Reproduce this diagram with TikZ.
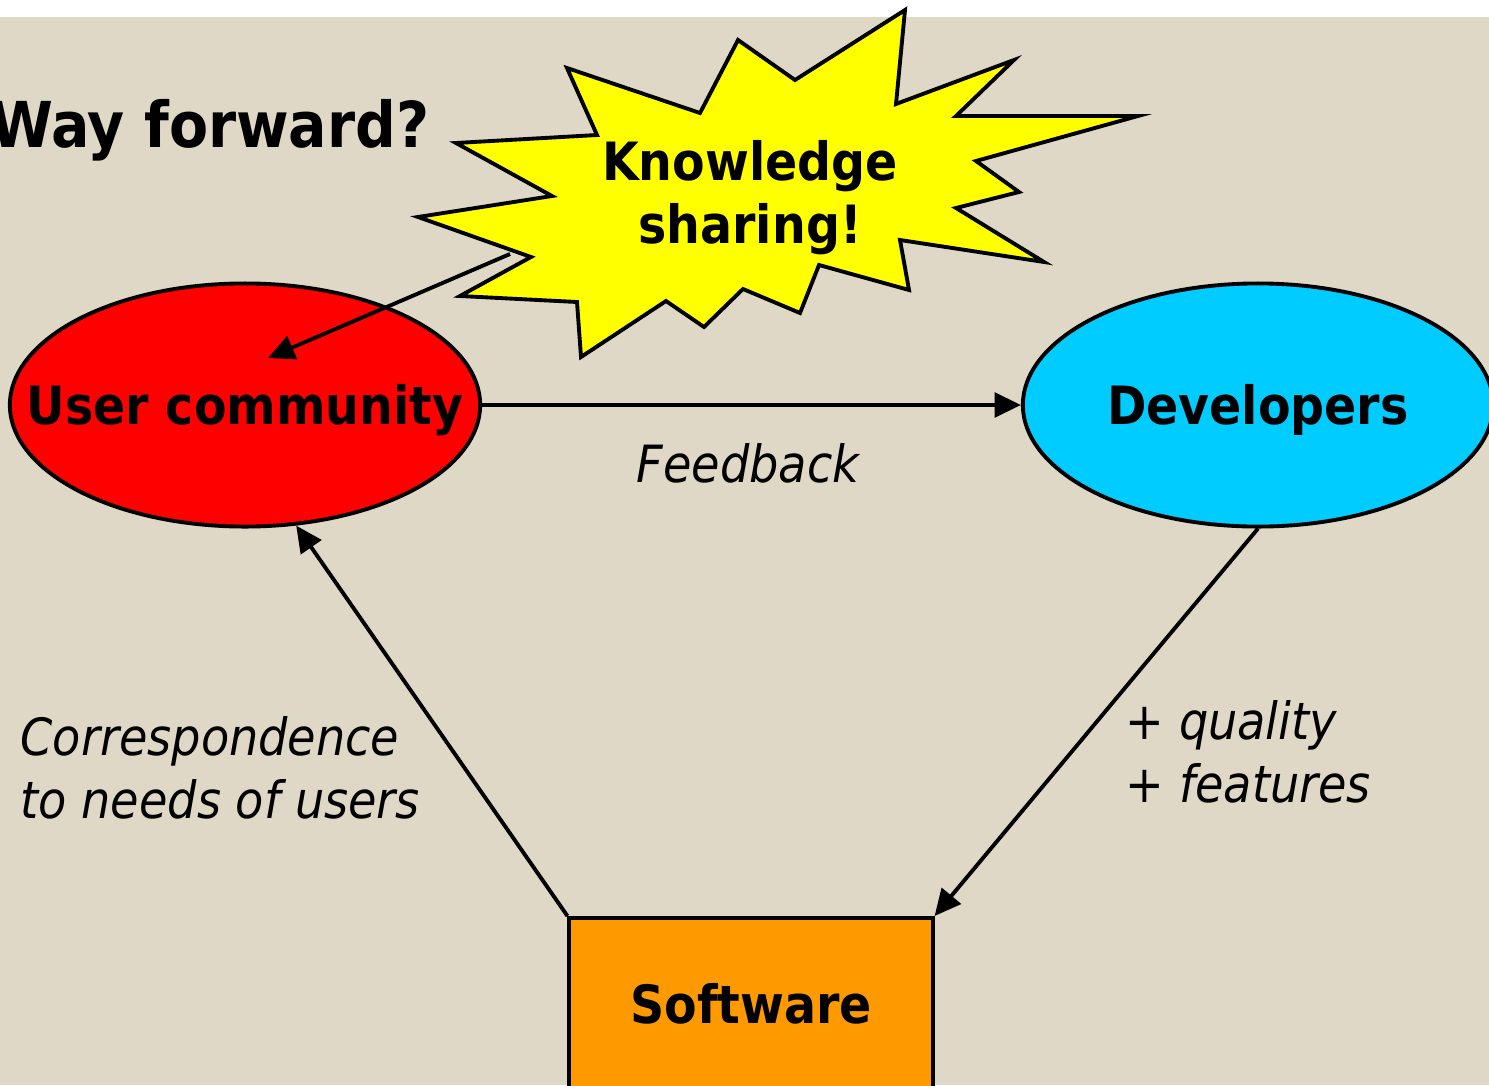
\documentclass[tikz,border=0pt]{standalone}
\usepackage{fontspec}
\setmainfont{DejaVu Sans Condensed}
\usetikzlibrary{shapes.geometric,arrows.meta}
\definecolor{slidebg}{RGB}{224,216,199}
\definecolor{usrred}{RGB}{255,0,0}
\definecolor{devblue}{RGB}{0,204,255}
\definecolor{swor}{RGB}{255,153,0}
\definecolor{burstyel}{RGB}{255,255,0}
\tikzset{
	blob/.style={ellipse, draw, line width=1.1pt, minimum width=4.7cm, minimum height=2.43cm, inner sep=0pt, text height=11pt, text depth=0pt, font=\fontsize{15}{18}\selectfont\bfseries},
	swbox/.style={rectangle, draw, fill=swor, line width=1.1pt, minimum width=3.63cm, minimum height=1.72cm, inner sep=0pt, text height=11pt, text depth=0pt, font=\fontsize{15}{18}\selectfont\bfseries},
	note/.style={font=\fontsize{14.6}{17.9}\selectfont\itshape, align=left, inner sep=0pt},
	flow/.style={-{Triangle[length=7.5pt,width=7pt]}, line width=1.1pt},
}
\begin{document}
\begin{tikzpicture}[x=0.01cm, y=-0.01cm]
	\useasboundingbox (0,0) rectangle (1489,1085);
	\fill[slidebg] (0,17) rectangle (1489,1085);
	\node[blob, fill=usrred] (usr) at (245,405) {\makebox[0pt]{User community}};
	\node[blob, fill=devblue] (dev) at (1258,405) {\makebox[0pt]{Developers}};
	\node[swbox] (sw) at (751,1004) {Software};
	\node[note, anchor=base] (fb) at (748,482) {Feedback};
	\node[note, anchor=north west] (corr) at (20,716) {Correspondence\\to needs of users};
	\node[note, anchor=north west] (qual) at (1125,700) {+ quality\\+ features};
	\node[font=\fontsize{18}{21}\selectfont\bfseries, inner sep=0pt, anchor=base east] (way) at (430,147) {Way forward?};
	\coordinate (kstail) at (510,254);
	\coordinate (usrin) at (268,358);
	\draw[flow] (usr.east) -- (dev.west);
	\draw[flow] (dev.south) -- (sw.north east);
	\draw[flow] (sw.north west) -- (usr.-67);
	\draw[flow] (kstail) -- (usrin);
	\draw[line width=1.1pt, fill=burstyel] (905,10) -- (896,104) -- (1014,60) -- (956,116) -- (1138,116) -- (976,161) -- (1019,192) -- (956,208) -- (1044,262) -- (900,240) -- (909,290) -- (819,265) -- (800,313) -- (743,289) -- (704,327) -- (666,301) -- (581,357) -- (577,302) -- (460,296) -- (531,257) -- (418,217) -- (552,196) -- (456,143) -- (597,135) -- (567,68) -- (700,113) -- (738,40) -- (795,80) -- cycle;
	\node[align=center, font=\fontsize{15}{17.9}\selectfont\bfseries] (ks) at (750,198) {Knowledge\\sharing!};
\end{tikzpicture}
\end{document}
